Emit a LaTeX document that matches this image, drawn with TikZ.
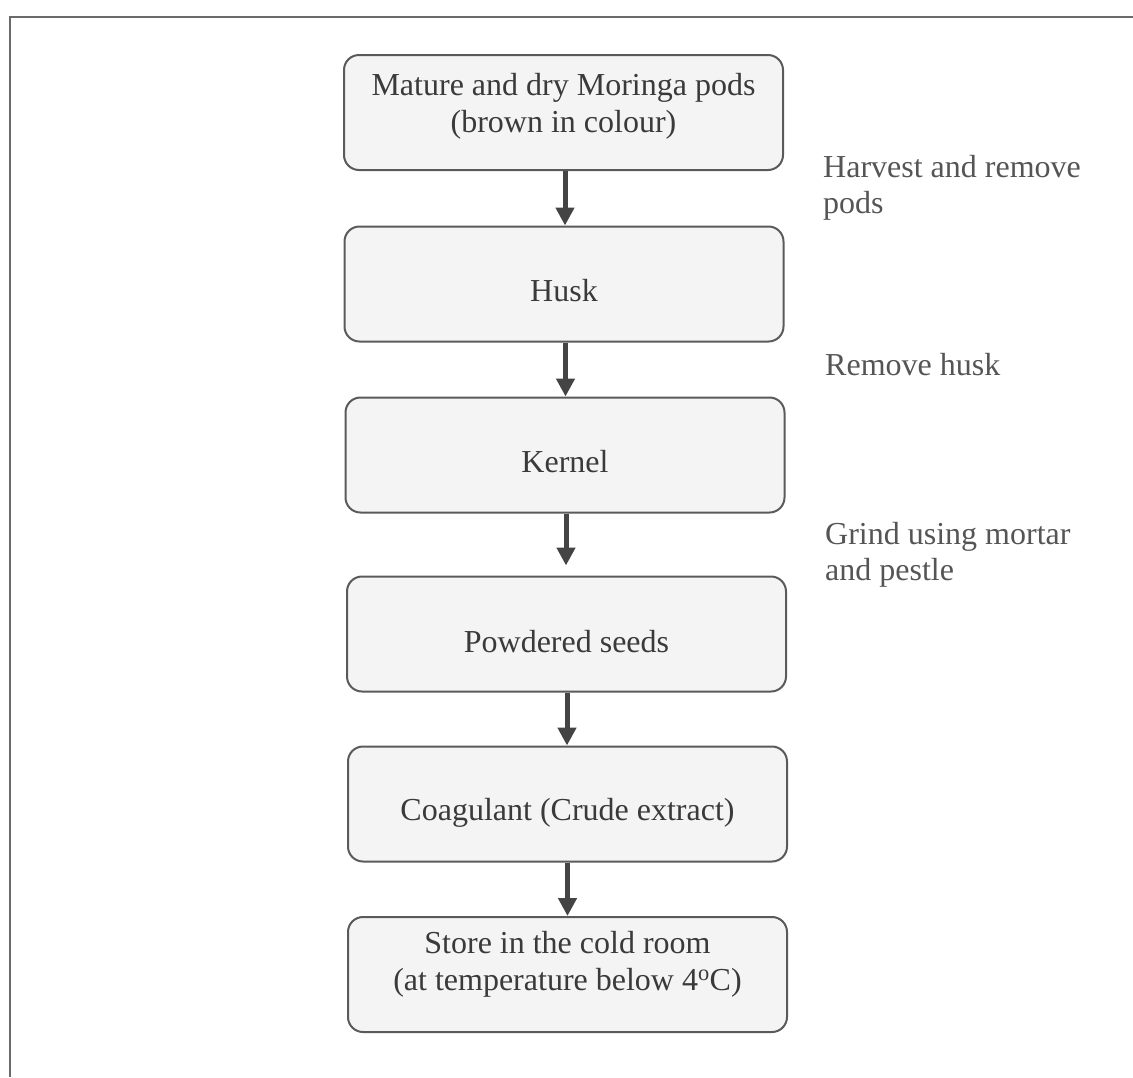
\documentclass[tikz,border=0pt]{standalone}
\usepackage{fontspec}
\setmainfont{Liberation Serif}
\usetikzlibrary{arrows.meta}
\definecolor{boxfill}{HTML}{F4F4F4}
\definecolor{boxline}{HTML}{5A5A5A}
\definecolor{txtcol}{HTML}{3A3A3A}
\definecolor{sidecol}{HTML}{555555}
\definecolor{arrcol}{HTML}{444444}
\definecolor{framecol}{HTML}{6A6A6A}
\tikzset{
  stepbox/.style={draw=boxline, fill=boxfill, line width=2pt, rounded corners=15pt,
    minimum width=439pt, minimum height=115pt, inner sep=0pt},
  boxtxt/.style={text=txtcol, font={\fontsize{32}{37}\selectfont}, align=center, anchor=base, inner sep=0pt},
  sidetxt/.style={text=sidecol, font={\fontsize{32}{36}\selectfont}, align=left, anchor=base west, inner sep=0pt},
  flow/.style={draw=arrcol, line width=5pt, -{Triangle[width=18pt,length=18pt]}}
}
\begin{document}
\begin{tikzpicture}[x=1pt,y=-1pt]
\useasboundingbox (0,0) rectangle (1133,1077);
% outer frame
\draw[framecol, line width=2.5pt] (10,1077) -- (10,17) -- (1133,17);
% boxes
\node[stepbox] (b1) at (563.5,112.5) {};
\node[stepbox] (b2) at (564,284) {};
\node[stepbox] (b3) at (565,455) {};
\node[stepbox] (b4) at (566.5,634) {};
\node[stepbox] (b5) at (567.5,804) {};
\node[stepbox] (b6) at (567.5,974.5) {};
% box texts (base anchor = baseline of last line)
\node[boxtxt] (t1) at (563.5,132) {Mature and dry Moringa pods\\(brown in colour)};
\node[boxtxt] (t2) at (564,301) {Husk};
\node[boxtxt] (t3) at (565,472) {Kernel};
\node[boxtxt] (t4) at (566.5,652) {Powdered seeds};
\node[boxtxt] (t5) at (567.5,820) {Coagulant (Crude extract)};
\node[boxtxt] (t6) at (567.5,990) {Store in the cold room\\(at temperature below 4\textsuperscript{o}C)};
% side labels
\node[sidetxt] (s1) at (823,213) {Harvest and remove\\pods};
\node[sidetxt] (s2) at (825,375) {Remove husk};
\node[sidetxt] (s3) at (825,580) {Grind using mortar\\and pestle};
% arrows
\draw[flow] (b1.south -| 565,0) -- (b2.north -| 565,0);
\draw[flow] (b2.south -| 565.5,0) -- (b3.north -| 565.5,0);
\draw[flow, shorten >=10pt] (b3.south -| 566,0) -- (b4.north -| 566,0);
\draw[flow] (b4.south -| 567,0) -- (b5.north -| 567,0);
\draw[flow] (b5.south -| 567.5,0) -- (b6.north -| 567.5,0);
\end{tikzpicture}
\end{document}
